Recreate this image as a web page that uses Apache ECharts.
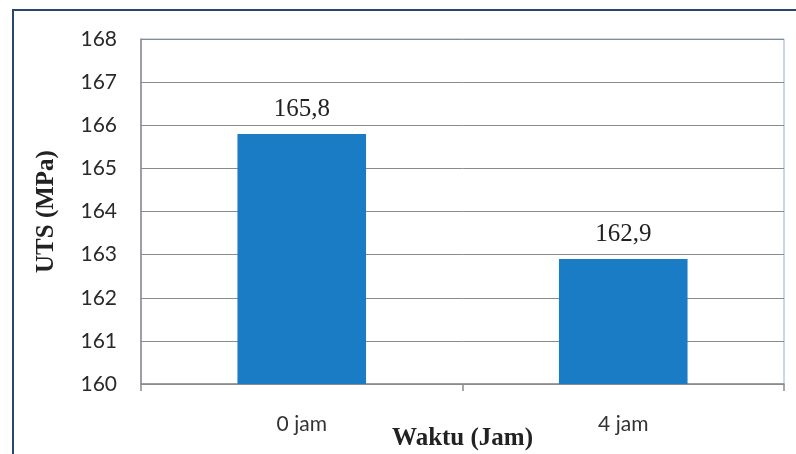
<!DOCTYPE html>
<html>
<head>
<meta charset="utf-8">
<script src="https://cdn.jsdelivr.net/npm/echarts@6/dist/echarts.min.js"></script>
<style>
  html, body { margin: 0; padding: 0; background: #ffffff; }
  #chart { width: 796px; height: 454px; }
</style>
</head>
<body>
<div id="chart"></div>
<script>
// UTS after different holding times
const categories = ['0 jam', '4 jam'];
const utsValues = [165.8, 162.9];
const yTicks = { min: 160, max: 168, step: 1 };

const chart = echarts.init(document.getElementById('chart'), null, { renderer: 'canvas' });

chart.setOption({
  animation: false,
  backgroundColor: '#ffffff',
  graphic: [
    {
      // outer chart frame (top and left edges visible)
      type: 'rect',
      shape: { x: 13, y: 10, width: 820, height: 480 },
      style: { fill: 'none', stroke: '#29466f', lineWidth: 2 },
      silent: true
    }
  ],
  grid: {
    left: 141, top: 39, right: 12, bottom: 70,
    outerBoundsMode: 'none',
    containLabel: false,
    show: true,
    borderColor: '#8fb0dc',
    borderWidth: 1,
    backgroundColor: 'transparent'
  },
  xAxis: {
    type: 'category',
    data: categories,
    name: 'Waktu (Jam)',
    nameLocation: 'middle',
    nameGap: 42,
    nameMoveOverlap: false,
    nameTextStyle: {
      fontFamily: 'Liberation Serif', fontWeight: 'bold', fontSize: 25, color: '#222',
      verticalAlign: 'top'
    },
    axisLine: { show: true, lineStyle: { color: '#8c8c8c', width: 1.5 } },
    axisTick: { show: true, alignWithLabel: false, length: 7, lineStyle: { color: '#8c8c8c', width: 1.5 } },
    axisLabel: {
      fontFamily: 'Lato', fontSize: 21, color: '#333', margin: 30
    }
  },
  yAxis: {
    type: 'value',
    min: yTicks.min, max: yTicks.max, interval: yTicks.step,
    name: 'UTS (MPa)',
    nameLocation: 'middle',
    nameGap: 82,
    nameMoveOverlap: false,
    nameRotate: 90,
    nameTextStyle: {
      fontFamily: 'Liberation Serif', fontWeight: 'bold', fontSize: 25, color: '#222'
    },
    axisLine: { show: true, lineStyle: { color: '#8c8c8c', width: 1.5 } },
    axisTick: { show: false },
    axisLabel: {
      fontFamily: 'Lato', fontSize: 21, color: '#2a2a2a', margin: 24
    },
    splitLine: { show: true, lineStyle: { color: '#8a8a8a', width: 1 } }
  },
  series: [
    {
      type: 'bar',
      data: utsValues,
      barWidth: '40%',
      itemStyle: { color: '#1a7cc4' },
      label: {
        show: true,
        position: 'top',
        distance: 12,
        fontFamily: 'Liberation Serif',
        fontSize: 25,
        color: '#222',
        formatter: p => String(p.value).replace('.', ',')
      }
    }
  ]
});
</script>
</body>
</html>
